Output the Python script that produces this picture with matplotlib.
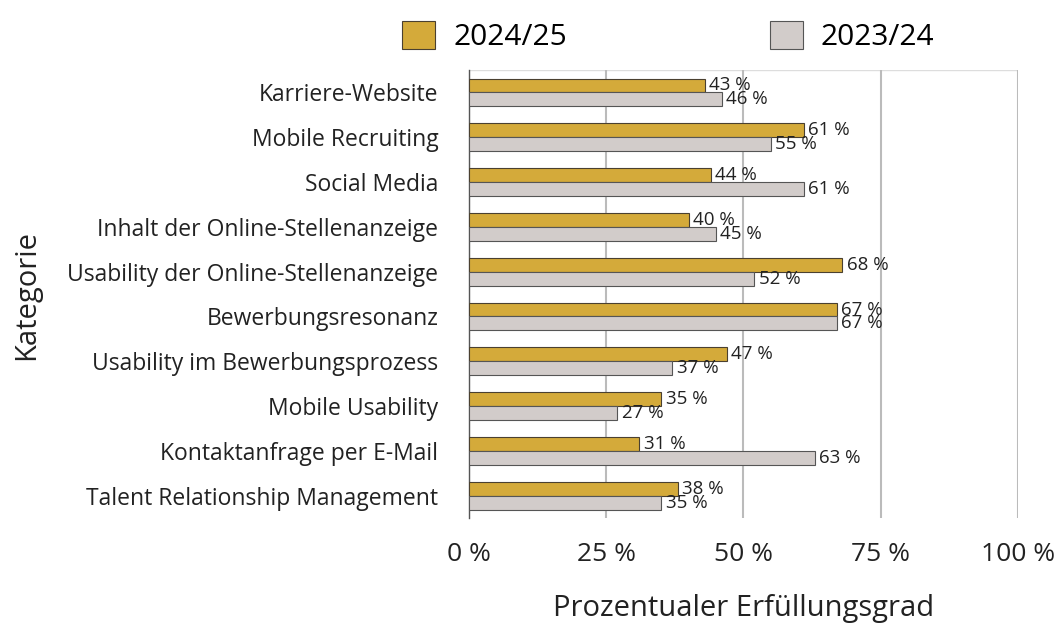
import matplotlib.pyplot as plt
import numpy as np

categories = [
    'Karriere-Website',
    'Mobile Recruiting',
    'Social Media',
    'Inhalt der Online-Stellenanzeige',
    'Usability der Online-Stellenanzeige',
    'Bewerbungsresonanz',
    'Usability im Bewerbungsprozess',
    'Mobile Usability',
    'Kontaktanfrage per E-Mail',
    'Talent Relationship Management',
]
values_2024 = [43, 61, 44, 40, 68, 67, 47, 35, 31, 38]
values_2023 = [46, 55, 61, 45, 52, 67, 37, 27, 63, 35]
x_ticks = [0, 25, 50, 75, 100]

plt.rcParams['font.family'] = ['Open Sans', 'DejaVu Sans']

gold = '#D4AA3A'
grey = '#D2CCCA'

fig = plt.figure(figsize=(10.61, 6.28), dpi=100)
ax = fig.add_axes([0.442, 0.175, 0.5175, 0.7135])

y = np.arange(len(categories))
h = 0.31
b1 = ax.barh(y - h / 2, values_2024, height=h, color=gold, edgecolor='#4a4030', linewidth=0.8, label='2024/25', zorder=3)
b2 = ax.barh(y + h / 2, values_2023, height=h, color=grey, edgecolor='#555555', linewidth=0.8, label='2023/24', zorder=3)

# value labels sit right at the bar end (they overlap a bit, like the original)
for bars, vals in ((b1, values_2024), (b2, values_2023)):
    for bar, v in zip(bars, vals):
        ax.text(v + 0.8, bar.get_y() + bar.get_height() / 2, f'{v} %',
                va='center', ha='left', fontsize=13.5, color='#222222', zorder=4)

ax.set_ylim(len(categories) - 0.5, -0.5)
ax.set_xlim(0, 100)
ax.set_yticks(y)
ax.set_yticklabels(categories, fontsize=16.5, color='#222222')
ax.set_xticks(x_ticks)
ax.set_xticklabels([f'{t} %' for t in x_ticks], fontsize=19, color='#222222')
ax.tick_params(axis='x', length=0, pad=17)
ax.tick_params(axis='y', length=0, pad=22)
ax.grid(axis='x', color='#bbbbbb', linewidth=1.5, zorder=0)

for s in ('top', 'right', 'bottom'):
    ax.spines[s].set_visible(False)
ax.spines['left'].set_color('#555555')
ax.spines['left'].set_linewidth(1)
ax.axhline(-0.5, color='#dddddd', linewidth=1, zorder=1)

ax.set_xlabel('Prozentualer Erfüllungsgrad', fontsize=21, color='#222222', labelpad=20)
fig.text(0.025, 0.53, 'Kategorie', rotation=90, fontsize=21, color='#222222', va='center', ha='center')

fig.legend(handles=[b1, b2], loc='upper center', bbox_to_anchor=(0.63, 1.01), ncol=2,
           frameon=False, fontsize=21.5, handlelength=1.1, handleheight=1.1,
           columnspacing=6.8, handletextpad=0.6)

fig.savefig('out.png', dpi=100)
